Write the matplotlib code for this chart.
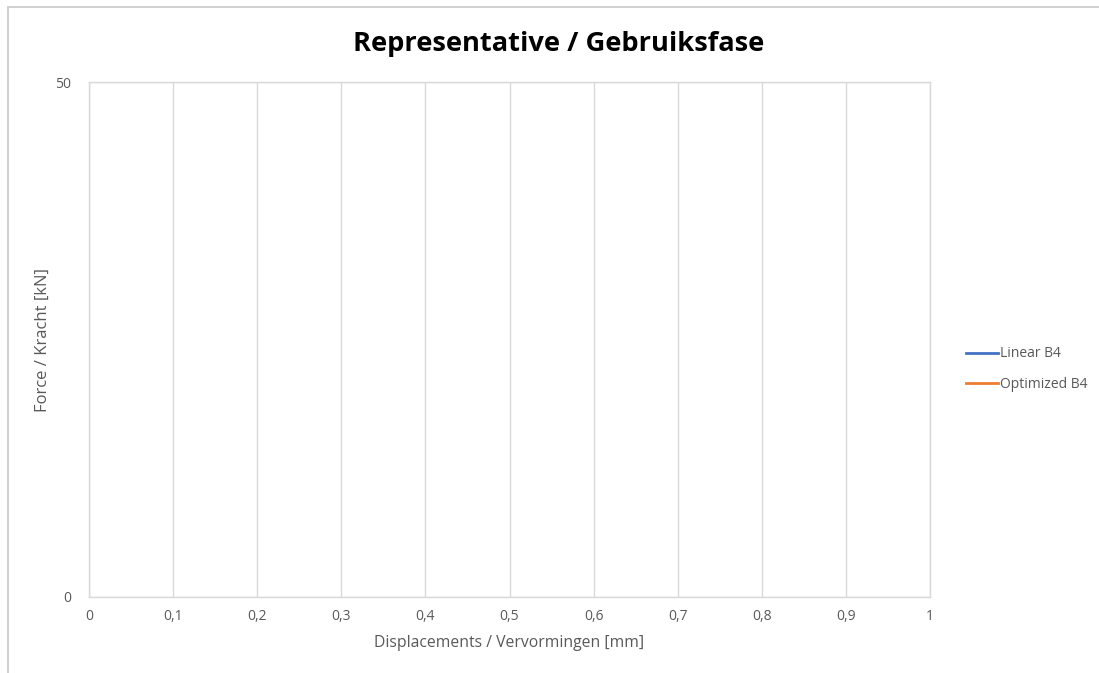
import matplotlib
matplotlib.use("Agg")
import matplotlib.pyplot as plt
from matplotlib.ticker import FixedLocator, FuncFormatter
from matplotlib.patches import Rectangle

plt.rcParams['font.family'] = ['Open Sans', 'DejaVu Sans']

# Series (no measured points in this phase)
series_names = ["Linear B4", "Optimized B4"]
linear_disp = []
linear_force = []
optimized_disp = []
optimized_force = []
series_colors = ["#4472C4", "#ED7D31"]

x_ticks = [0, 0.1, 0.2, 0.3, 0.4, 0.5, 0.6, 0.7, 0.8, 0.9, 1]
y_ticks = [0, 50]

fig = plt.figure(figsize=(10.99, 6.73), dpi=100)
W, H = 1099, 673

# outer chart frame (partially cropped)
fig.patches.append(Rectangle((8 / W, -0.1), 1.2, (H - 7) / H + 0.1, transform=fig.transFigure,
                             fill=False, edgecolor="#c8c8c8", linewidth=1.2))

x0, x1, y0, y1 = 89, 930, 82, 597
ax = fig.add_axes([x0 / W, 1 - y1 / H, (x1 - x0) / W, (y1 - y0) / H])

ax.plot(linear_disp, linear_force, color=series_colors[0], linewidth=2, label=series_names[0])
ax.plot(optimized_disp, optimized_force, color=series_colors[1], linewidth=2, label=series_names[1])

ax.set_xlim(0, 1)
ax.set_ylim(0, 50)
ax.xaxis.set_major_locator(FixedLocator(x_ticks))
ax.yaxis.set_major_locator(FixedLocator(y_ticks))
fmt = FuncFormatter(lambda v, p: ("%g" % v).replace(".", ","))
ax.xaxis.set_major_formatter(fmt)
ax.yaxis.set_major_formatter(fmt)

ax.grid(True, color="#d9d9d9", linewidth=1)
ax.set_axisbelow(True)
for s in ax.spines.values():
    s.set_color("#d9d9d9")
    s.set_linewidth(1)
ax.tick_params(axis="both", length=0, labelsize=10, colors="#595959")
ax.tick_params(axis="x", pad=9)
ax.tick_params(axis="y", pad=13)

ax.set_xlabel("Displacements / Vervormingen [mm]", fontsize=11.3, color="#595959", va="center")
ax.set_ylabel("Force / Kracht [kN]", fontsize=12, color="#595959", va="center")
ax.xaxis.set_label_coords(0.5, -(643 - y1) / (y1 - y0))
ax.yaxis.set_label_coords((43 - x0) / (x1 - x0), 0.5)

fig.text(559 / W, 1 - 44 / H, "Representative / Gebruiksfase", ha="center", va="center",
         fontsize=19.6, fontweight="bold", color="#000000")

leg = ax.legend(loc="center left", bbox_to_anchor=(960 / W, 1 - 369 / H),
                bbox_transform=fig.transFigure, frameon=False, fontsize=10,
                handlelength=2.3, handletextpad=0.15, labelspacing=1.1, borderaxespad=0)
for t in leg.get_texts():
    t.set_color("#595959")

fig.savefig("out.png", dpi=100, facecolor="white")
